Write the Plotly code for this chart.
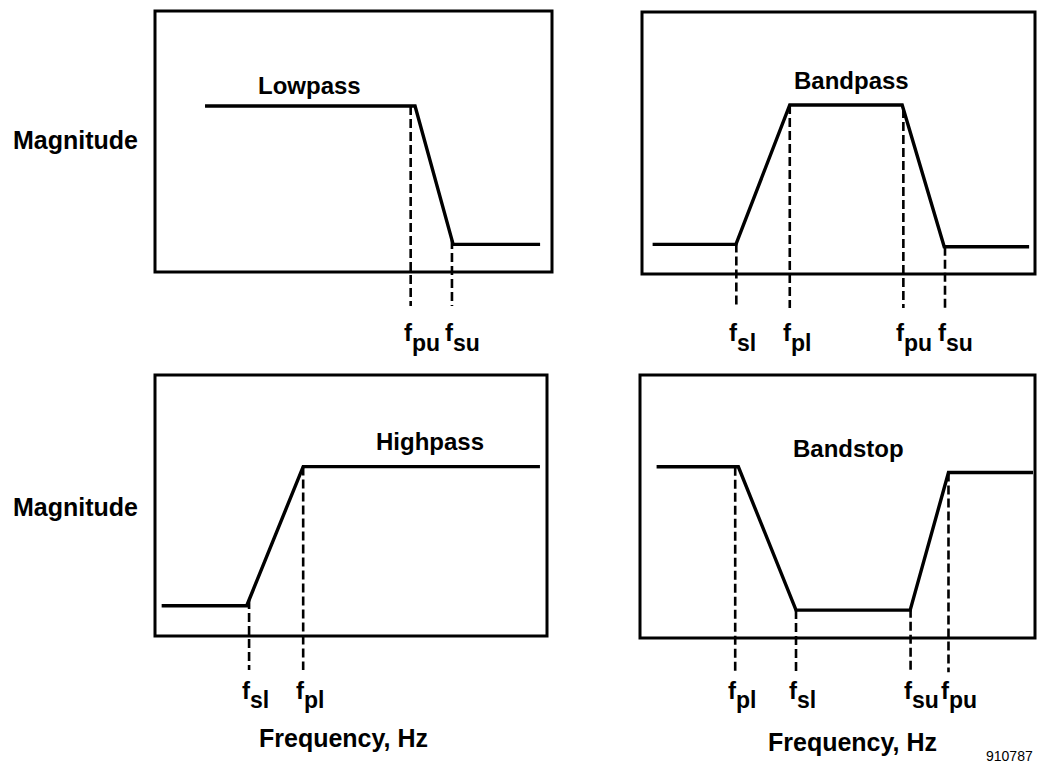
import numpy as np
import plotly.graph_objects as go

# Filter templates, frequency and magnitude in box units (box spans 0..100 on both axes)
lowpass_freq = [12.6, 65.5, 75.1, 97.0]
lowpass_mag = [63.6, 63.6, 10.6, 10.6]
lowpass_edges = [64.4, 74.8]
lowpass_edge_labels = ['pu', 'su']

bandpass_freq = [2.7, 23.9, 37.6, 66.2, 76.9, 98.5]
bandpass_mag = [11.3, 11.3, 64.5, 64.5, 10.4, 10.4]
bandpass_edges = [24.0, 37.6, 66.5, 77.1]
bandpass_edge_labels = ['sl', 'pl', 'pu', 'su']

highpass_freq = [1.7, 23.4, 37.8, 98.2]
highpass_mag = [11.6, 11.6, 64.9, 64.9]
highpass_edges = [24.0, 37.8]
highpass_edge_labels = ['sl', 'pl']

bandstop_freq = [4.2, 24.9, 39.5, 68.4, 78.1, 99.5]
bandstop_mag = [65.1, 65.1, 10.6, 10.6, 62.9, 62.9]
bandstop_edges = [24.1, 39.5, 68.5, 78.1]
bandstop_edge_labels = ['pl', 'sl', 'su', 'pu']

W, H = 1037, 763
FONT = 'Liberation Sans, Arial, Helvetica, sans-serif'
DASH_BOTTOM = -13

# box pixels (left, top, right, bottom), title position, label row (pixel y)
panels = [
    dict(name='Lowpass', freq=lowpass_freq, mag=lowpass_mag, edges=lowpass_edges,
         labels=lowpass_edge_labels, box=(155, 11, 552, 272), title_xy=(38.8, 71.6), label_py=333),
    dict(name='Bandpass', freq=bandpass_freq, mag=bandpass_mag, edges=bandpass_edges,
         labels=bandpass_edge_labels, box=(642, 12, 1035, 274), title_xy=(53.2, 74.0), label_py=333),
    dict(name='Highpass', freq=highpass_freq, mag=highpass_mag, edges=highpass_edges,
         labels=highpass_edge_labels, box=(155, 375, 547, 636), title_xy=(70.2, 74.4), label_py=690),
    dict(name='Bandstop', freq=bandstop_freq, mag=bandstop_mag, edges=bandstop_edges,
         labels=bandstop_edge_labels, box=(640, 375, 1035, 638), title_xy=(52.9, 72.2), label_py=690),
]

fig = go.Figure()
layout = {}
annotations = []
shapes = []

for i, p in enumerate(panels):
    n = '' if i == 0 else str(i + 1)
    xa, ya = 'x' + n, 'y' + n
    l, t, r, b = p['box']
    sx = (r - l) / 100
    sy = (b - t) / 100
    pl, pt, pr, pb = 5, 5, min(5, W - r), 48
    layout['xaxis' + n] = dict(domain=[(l - pl) / W, (r + pr) / W],
                               range=[-pl / sx, 100 + pr / sx], visible=False,
                               anchor=ya, fixedrange=True)
    layout['yaxis' + n] = dict(domain=[1 - (b + pb) / H, 1 - (t - pt) / H],
                               range=[-pb / sy, 100 + pt / sy], visible=False,
                               anchor=xa, fixedrange=True)

    # frame
    shapes.append(dict(type='rect', xref=xa, yref=ya, x0=0, x1=100, y0=0, y1=100,
                       line=dict(color='black', width=3), layer='below'))

    # magnitude template
    fig.add_trace(go.Scatter(x=p['freq'], y=p['mag'], mode='lines', xaxis=xa, yaxis=ya,
                             line=dict(color='black', width=3.4), hoverinfo='skip',
                             showlegend=False))

    # dashed band-edge markers
    dx, dy = [], []
    for f in p['edges']:
        dx += [f, f, None]
        dy += [float(np.interp(f, p['freq'], p['mag'])), DASH_BOTTOM, None]
    fig.add_trace(go.Scatter(x=dx, y=dy, mode='lines', xaxis=xa, yaxis=ya,
                             line=dict(color='black', width=2.6, dash='9px,4px'),
                             hoverinfo='skip', showlegend=False))

    # title inside the box
    annotations.append(dict(x=p['title_xy'][0], y=p['title_xy'][1], xref=xa, yref=ya,
                            text=p['name'], showarrow=False, xanchor='center',
                            font=dict(family=FONT, size=24, color='black', weight='bold')))

    # f with subscript labels
    ly = 1 - p['label_py'] / H
    for f, lab in zip(p['edges'], p['labels']):
        annotations.append(dict(x=f, y=ly, xref=xa, yref='paper', text='f',
                                xanchor='right', yanchor='middle', xshift=4, showarrow=False,
                                font=dict(family=FONT, size=24, color='black', weight='bold')))
        annotations.append(dict(x=f, y=ly, xref=xa, yref='paper', text=lab,
                                xanchor='left', yanchor='middle', xshift=-1, yshift=-10,
                                showarrow=False,
                                font=dict(family=FONT, size=23, color='black', weight='bold')))

# axis titles
for yc in [140, 507]:
    annotations.append(dict(x=75 / W, y=1 - yc / H, xref='paper', yref='paper',
                            text='Magnitude', showarrow=False, xanchor='center', yanchor='middle',
                            font=dict(family=FONT, size=25, color='black', weight='bold')))
for xa, xc, yc in [('x3', 48.2, 738), ('x4', 53.7, 742)]:
    annotations.append(dict(x=xc, y=1 - yc / H, xref=xa, yref='paper', text='Frequency, Hz',
                            showarrow=False, xanchor='center', yanchor='middle',
                            font=dict(family=FONT, size=25, color='black', weight='bold')))

annotations.append(dict(x=1035 / W, y=1 - 756 / H, xref='paper', yref='paper', text='910787',
                        xanchor='right', yanchor='middle', showarrow=False,
                        font=dict(family=FONT, size=14, color='black')))

fig.update_layout(**layout)
fig.update_layout(width=W, height=H, autosize=False,
                  margin=dict(l=0, r=0, t=0, b=0),
                  paper_bgcolor='white', plot_bgcolor='rgba(0,0,0,0)',
                  annotations=annotations, shapes=shapes, showlegend=False)

fig.write_html("out.html", config={'displayModeBar': False},
               post_script="document.body.style.margin='0';document.body.style.overflow='hidden';")
